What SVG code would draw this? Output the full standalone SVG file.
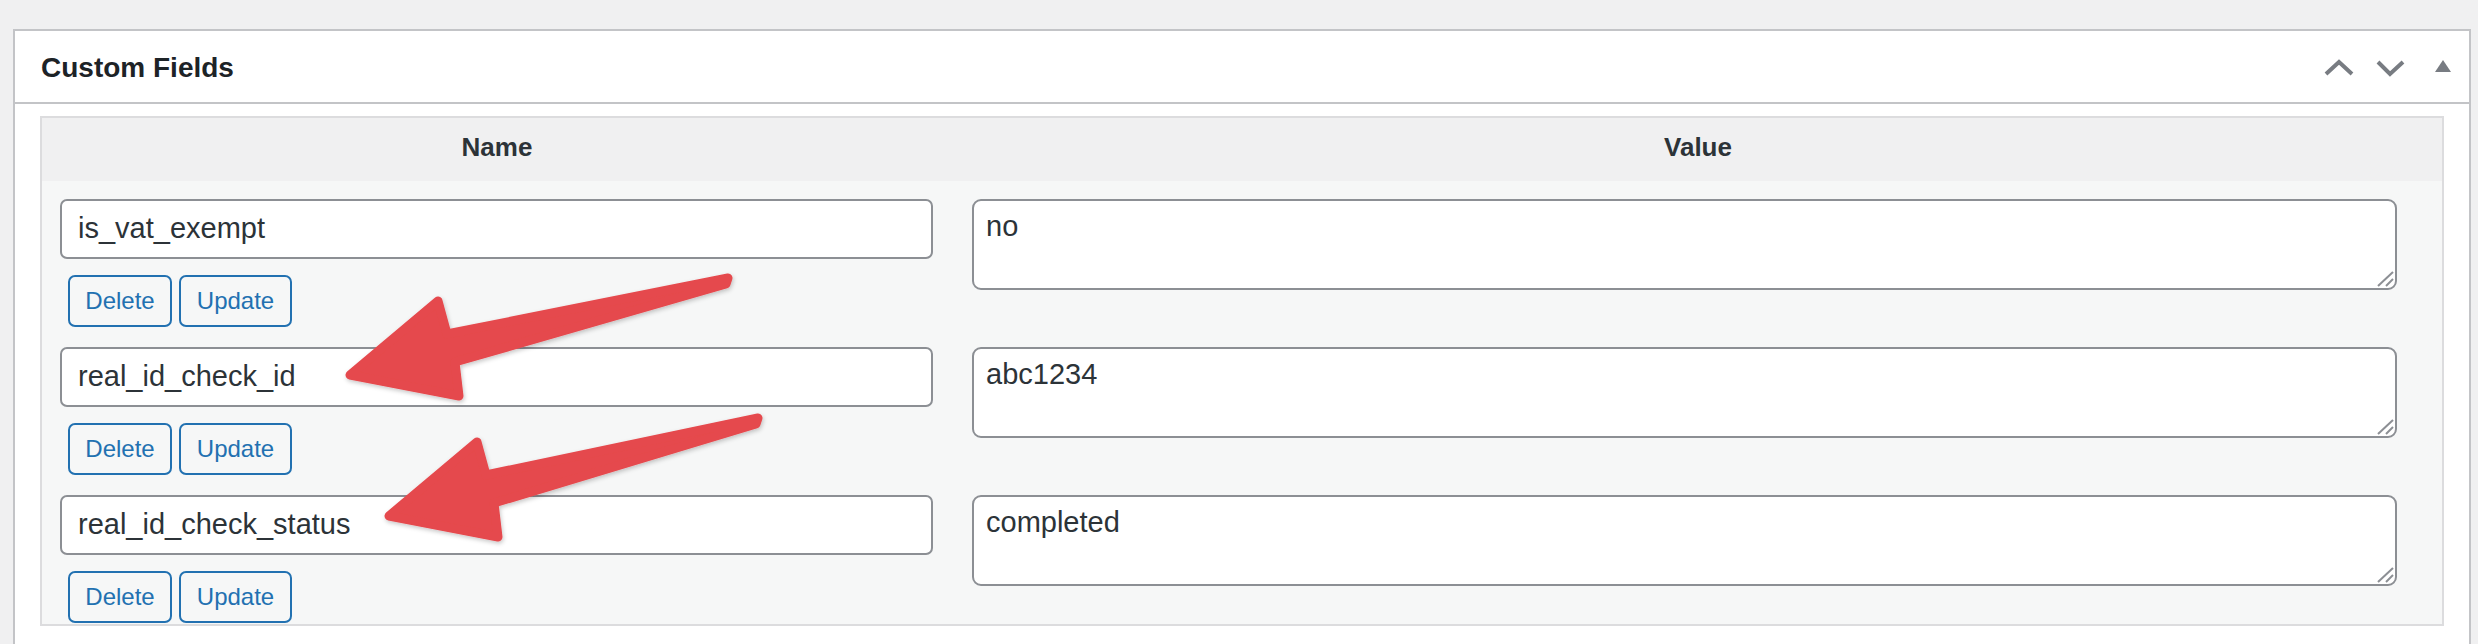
<svg xmlns="http://www.w3.org/2000/svg" xmlns:xlink="http://www.w3.org/1999/xlink" width="2478" height="644" viewBox="0 0 2478 644">
<style>
text{font-family:"Liberation Sans",Arial,sans-serif}
.title{font-size:28px;font-weight:bold;fill:#1d2327}
.th{font-size:26px;font-weight:bold;fill:#2c3338}
.val{font-size:29px;fill:#2c3338}
.inp{fill:#fff;stroke:#8c8f94;stroke-width:2}
.btn{fill:#f6f7f7;stroke:#2271b1;stroke-width:2}
.btxt{font-size:24px;fill:#2271b1}
.ico{fill:none;stroke:#787c82;stroke-width:4}
.grip{stroke:#8c8f94;stroke-width:2}
.arrow{fill:#e5494d;stroke:#e5494d;stroke-width:9;stroke-linejoin:round}
</style>
<defs>
<filter id="sh" x="-10%" y="-10%" width="120%" height="130%">
<feDropShadow dx="1" dy="2" stdDeviation="2" flood-color="#000" flood-opacity="0.22"/>
</filter>
<g id="grip"><line class="grip" x1="-17" y1="-2" x2="-2" y2="-16"/><line class="grip" x1="-9" y1="-2" x2="-2" y2="-9"/></g>
</defs>
<rect width="2478" height="644" fill="#f0f0f1"/>
<g id="panel">
<rect x="14" y="30" width="2456" height="630" fill="#fff" stroke="#c3c4c7" stroke-width="2"/>
<line x1="14" y1="103" x2="2470" y2="103" stroke="#c3c4c7" stroke-width="2"/>
<text class="title" x="41" y="77">Custom Fields</text>
<polyline class="ico" points="2326,74 2339,62 2352,74"/>
<polyline class="ico" points="2378,62 2390,74 2403,62"/>
<polygon points="2435,72 2443,60 2451,72" fill="#787c82"/>
</g>
<g id="table">
<rect x="41" y="117" width="2402" height="508" fill="#f6f7f7" stroke="#dcdcde" stroke-width="2"/>
<rect x="42" y="118" width="2400" height="63" fill="#f0f0f1"/>
<text class="th" x="497" y="156" text-anchor="middle">Name</text>
<text class="th" x="1698" y="156" text-anchor="middle">Value</text>
</g>
<g id="row1">
<rect class="inp" x="61" y="200" width="871" height="58" rx="6"/>
<text class="val" x="78" y="238">is_vat_exempt</text>
<rect class="inp" x="973" y="200" width="1423" height="89" rx="8"/>
<use xlink:href="#grip" x="2395" y="288"/>
<text class="val" x="986" y="236">no</text>
<rect class="btn" x="69" y="276" width="102" height="50" rx="6"/>
<text class="btxt" x="120" y="309" text-anchor="middle">Delete</text>
<rect class="btn" x="180" y="276" width="111" height="50" rx="6"/>
<text class="btxt" x="235.5" y="309" text-anchor="middle">Update</text>
</g>
<g id="row2">
<rect class="inp" x="61" y="348" width="871" height="58" rx="6"/>
<text class="val" x="78" y="386">real_id_check_id</text>
<rect class="inp" x="973" y="348" width="1423" height="89" rx="8"/>
<use xlink:href="#grip" x="2395" y="436"/>
<text class="val" x="986" y="384">abc1234</text>
<rect class="btn" x="69" y="424" width="102" height="50" rx="6"/>
<text class="btxt" x="120" y="457" text-anchor="middle">Delete</text>
<rect class="btn" x="180" y="424" width="111" height="50" rx="6"/>
<text class="btxt" x="235.5" y="457" text-anchor="middle">Update</text>
</g>
<g id="row3">
<rect class="inp" x="61" y="496" width="871" height="58" rx="6"/>
<text class="val" x="78" y="534">real_id_check_status</text>
<rect class="inp" x="973" y="496" width="1423" height="89" rx="8"/>
<use xlink:href="#grip" x="2395" y="584"/>
<text class="val" x="986" y="532">completed</text>
<rect class="btn" x="69" y="572" width="102" height="50" rx="6"/>
<text class="btxt" x="120" y="605" text-anchor="middle">Delete</text>
<rect class="btn" x="180" y="572" width="111" height="50" rx="6"/>
<text class="btxt" x="235.5" y="605" text-anchor="middle">Update</text>
</g>
<g id="connectors" filter="url(#sh)">
<path class="arrow" d="M350,375 L438,301 L447,334 L728,278 L726,284 L455,362 L459,396 Z"/>
<path class="arrow" d="M389,516 L477,442 L486,475 L758,418 L756,424 L494,503 L498,537 Z"/>
</g>
</svg>
